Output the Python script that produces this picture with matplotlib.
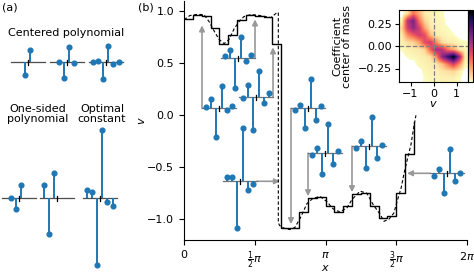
import numpy as np
import matplotlib
matplotlib.use("Agg")
import matplotlib.pyplot as plt

plt.rcParams["font.size"] = 8

# ---- panel (a): stencil coefficients (slot offsets relative to the evaluation point)
centered2_slots = [-0.5, 0.5]
centered2_coef = [-1.05, 1.0]
centered4_slots = [-1.5, -0.5, 0.5, 1.5]
centered4_coef = [0.05, -1.33, 1.25, -0.06]
centered6_slots = [-2.5, -1.5, -0.5, 0.5, 1.5, 2.5]
centered6_coef = [-0.01, 0.08, -1.42, 1.33, -0.15, 0.01]
onesided_a_slots = [-1.5, -0.5, 0.5]
onesided_a_coef = [0.04, -0.92, 1.08]
onesided_b_slots = [-2.5, -1.5, -0.5]
onesided_b_coef = [1.08, -2.97, 2.08]
optimal_slots = [-2.5, -1.5, -0.5, 0.5, 1.5, 2.5]
optimal_coef = [0.7, 0.48, -5.6, 5.65, -0.36, -0.63]

# ---- panel (b): exact solution (dashed) and cell averages (solid)
exact_x = [0, 0.13, 0.27, 0.44, 0.56, 0.67, 0.78, 0.89, 1.0, 1.11, 1.22, 1.33, 1.49,
           1.69, 1.93, 2.04, 2.094, 2.094, 2.12, 2.24, 2.35, 2.46, 2.58, 2.73, 2.86,
           3.02, 3.17, 3.31, 3.46, 3.62, 3.73, 3.91, 4.06, 4.20, 4.35, 4.44, 4.55,
           4.66, 4.73, 4.82, 4.88, 4.95, 5.04, 5.11, 5.15]
exact_v = [0.92, 0.96, 0.97, 0.97, 0.90, 0.81, 0.73, 0.69, 0.73, 0.83, 0.90, 0.95, 0.97,
           0.96, 0.94, 0.98, 0.99, -1.03, -1.06, -1.09, -1.10, -1.08, -0.99, -0.85, -0.80,
           -0.78, -0.83, -0.90, -0.93, -0.89, -0.81, -0.73, -0.75, -0.86, -0.95, -1.02, -1.0,
           -0.94, -0.83, -0.70, -0.57, -0.44, -0.28, -0.09, 0.0]
n_cells = 32
cell_avg = [0.93, 0.965, 0.96, 0.84, 0.69, 0.77, 0.92, 0.965, 0.96, 0.945, 0.69,
            -1.085, -1.08, -0.93, -0.80, -0.79, -0.87, -0.93, -0.87, -0.76, -0.75,
            -0.875, -0.99, -0.97, -0.75, -0.375, -0.06]

# learned stencils shown inside panel (b)
stencil_x = [0.777, 1.199, 1.599, 1.243, 2.753, 3.131, 4.107, 5.839]
stencil_v = [0.067, 0.548, 0.173, -0.635, 0.067, -0.365, -0.298, -0.558]
stencil_coef = [
    [0.08, 0.75, -2.42, 1.83, -0.17, 0.17],
    [0.17, 0.67, -2.5, 1.8, -0.2, 0.25],
    [-0.04, 1.0, -2.75, 2.17, -0.5, 0.33],
    [0.33, 0.33, -3.92, 4.42, -0.75, -0.25],
    [-0.17, 0.25, -1.67, 2.42, -1.0, 0.17],
    [-0.17, 0.42, -1.75, 2.42, -0.92, 0.17],
    [-0.17, 0.42, -1.83, 2.42, -1.0, 0.08],
    [-0.25, 0.33, -1.67, 2.0, -0.67, 0.0],
]
arrow_side = ["left", "right", "right", "right", "left", "left", "left", "left"]
arrow_dir = ["v", "v", "v", "h", "v", "v", "v", "h"]
arrow_tip = [0.865, 0.923, 0.654, 2.13, -1.048, -0.779, -0.74, 4.951]

# ---- inset: density of coefficient centre of mass vs v (rows top -> bottom, 0..1)
density = np.array([
    [0.00, 0.08, 0.30, 0.18, 0.05, 0.04, 0.03, 0.02, 0.00, 0.00, 0.00, 0.00],
    [0.03, 0.50, 0.65, 0.30, 0.10, 0.04, 0.03, 0.03, 0.00, 0.00, 0.00, 0.00],
    [0.10, 0.45, 0.60, 0.45, 0.20, 0.06, 0.04, 0.03, 0.02, 0.00, 0.00, 0.00],
    [0.05, 0.25, 0.35, 0.45, 0.40, 0.15, 0.05, 0.04, 0.03, 0.02, 0.00, 0.00],
    [0.04, 0.08, 0.10, 0.20, 0.40, 0.45, 0.25, 0.08, 0.05, 0.05, 0.03, 0.02],
    [0.02, 0.04, 0.05, 0.06, 0.10, 0.35, 0.55, 0.50, 0.30, 0.20, 0.06, 0.03],
    [0.00, 0.02, 0.03, 0.04, 0.05, 0.08, 0.25, 0.60, 0.80, 1.00, 0.60, 0.05],
    [0.00, 0.00, 0.00, 0.03, 0.04, 0.05, 0.06, 0.15, 0.30, 0.45, 0.25, 0.03],
    [0.00, 0.00, 0.00, 0.00, 0.03, 0.04, 0.04, 0.06, 0.08, 0.10, 0.05, 0.00],
    [0.00, 0.00, 0.00, 0.00, 0.02, 0.03, 0.03, 0.04, 0.04, 0.04, 0.02, 0.00],
])

W, H = 474, 277
fig = plt.figure(figsize=(W / 100, H / 100), dpi=100)


def draw_stencil(ax, x0, y0, slots, coef, sx, sy, half, tick, base_color="0.45"):
    xs = x0 + np.asarray(slots) * sx
    ys = y0 + np.asarray(coef) * sy
    ax.plot([x0 - half, x0 + half], [y0, y0], color=base_color, lw=0.9, zorder=3)
    ax.plot([x0, x0], [y0 - tick, y0 + tick], color="k", lw=0.9, zorder=4)
    ax.vlines(xs, y0, ys, color="C0", lw=1.4, zorder=4)
    ax.plot(xs, ys, "o", color="C0", ms=3.4, zorder=5)


# ---------------- panel (a), drawn in pixel units
ax_a = fig.add_axes([0, 0, 182 / W, 1])
ax_a.set_xlim(0, 182)
ax_a.set_ylim(H, 0)
ax_a.axis("off")

ax_a.text(66, 33, "Centered polynomial", ha="center", va="center")
ax_a.text(38, 114, "One-sided\npolynomial", ha="center", va="center", linespacing=1.0)
ax_a.text(102, 114, "Optimal\nconstant", ha="center", va="center", linespacing=1.0)

sa = dict(sx=5.2, sy=-12, half=17, tick=2.5, base_color="0.3")
draw_stencil(ax_a, 27.5, 62.3, centered2_slots, centered2_coef, **sa)
draw_stencil(ax_a, 66.5, 62.3, centered4_slots, centered4_coef, **sa)
draw_stencil(ax_a, 105.5, 62.3, centered6_slots, centered6_coef, **sa)
draw_stencil(ax_a, 18.5, 198, onesided_a_slots, onesided_a_coef, **sa)
draw_stencil(ax_a, 57, 198, onesided_b_slots, onesided_b_coef, **sa)
draw_stencil(ax_a, 99.5, 198, optimal_slots, optimal_coef, **sa)

fig.text(2 / W, 1 - 7 / H, "(a)", ha="left", va="center")
fig.text(146 / W, 1 - 7 / H, "(b)", ha="center", va="center")

# ---------------- panel (b)
ax = fig.add_axes([184 / W, 37 / H, 283 / W, 239 / H])
ax.set_xlim(0, 2 * np.pi)
ax.set_ylim(-1.2, 1.1)
ax.spines["top"].set_visible(False)
ax.spines["right"].set_visible(False)
ax.set_xticks([0, np.pi / 2, np.pi, 3 * np.pi / 2, 2 * np.pi])
ax.set_xticklabels(["0", r"$\frac{1}{2}\pi$", r"$\pi$", r"$\frac{3}{2}\pi$", r"$2\pi$"])
ax.set_yticks([-1.0, -0.5, 0.0, 0.5, 1.0])
ax.set_xlabel("$x$")
ax.xaxis.set_label_coords(0.5, -(263 - 240) / 239)
ax.set_ylabel("$v$", labelpad=0)

edges = np.linspace(0, 2 * np.pi, n_cells + 1)[:len(cell_avg)]
ax.plot(edges, cell_avg, drawstyle="steps-post", color="k", lw=1.0, zorder=2)
ax.plot(exact_x, exact_v, color="k", lw=0.8, ls=(0, (3, 2)), zorder=2)

px_x = 283 / (2 * np.pi)
px_y = 239 / 2.3
sb = dict(sx=5.2 / px_x, sy=12 / px_y, half=17 / px_x, tick=2.5 / px_y)
for x0, y0, coef, side, d, tip in zip(stencil_x, stencil_v, stencil_coef,
                                      arrow_side, arrow_dir, arrow_tip):
    draw_stencil(ax, x0, y0, optimal_slots, coef, **sb)
    xs = x0 - sb["half"] if side == "left" else x0 + sb["half"]
    end = (xs, tip) if d == "v" else (tip, y0)
    ax.annotate("", xy=end, xytext=(xs, y0),
                arrowprops=dict(arrowstyle="-|>", color="0.6", lw=1.2,
                                mutation_scale=8, shrinkA=0, shrinkB=0),
                zorder=1)

# ---------------- inset
ax_in = fig.add_axes([399 / W, 1 - 82 / H, 69 / W, 72 / H])
cmap = plt.get_cmap("magma_r").copy()
cmap.set_under("white")
im = ax_in.imshow(density, extent=(-1.5, 1.5, -0.4, 0.4), origin="upper", aspect="auto",
                  cmap=cmap, vmin=0.015, vmax=1.0, interpolation="bilinear")
ax_in.axvline(0, color="0.5", ls="--", lw=0.9)
ax_in.axhline(0, color="0.5", ls="--", lw=0.9)
ax_in.set_xlim(-1.5, 1.5)
ax_in.set_ylim(-0.4, 0.4)
ax_in.set_xticks([-1, 0, 1])
ax_in.set_yticks([-0.25, 0.0, 0.25])
ax_in.set_yticklabels(["\u22120.25", "0.00", "0.25"])
ax_in.tick_params(length=3, pad=2)
ax_in.set_xlabel("$v$", labelpad=0)
ax_in.set_ylabel("Coefficient\ncenter of mass", linespacing=1.0)

cax = fig.add_axes([468 / W, 1 - 82 / H, 5 / W, 72 / H])
cb = fig.colorbar(im, cax=cax)
cb.set_ticks([])
cb.outline.set_linewidth(0.8)

fig.savefig("out.png", dpi=100)
